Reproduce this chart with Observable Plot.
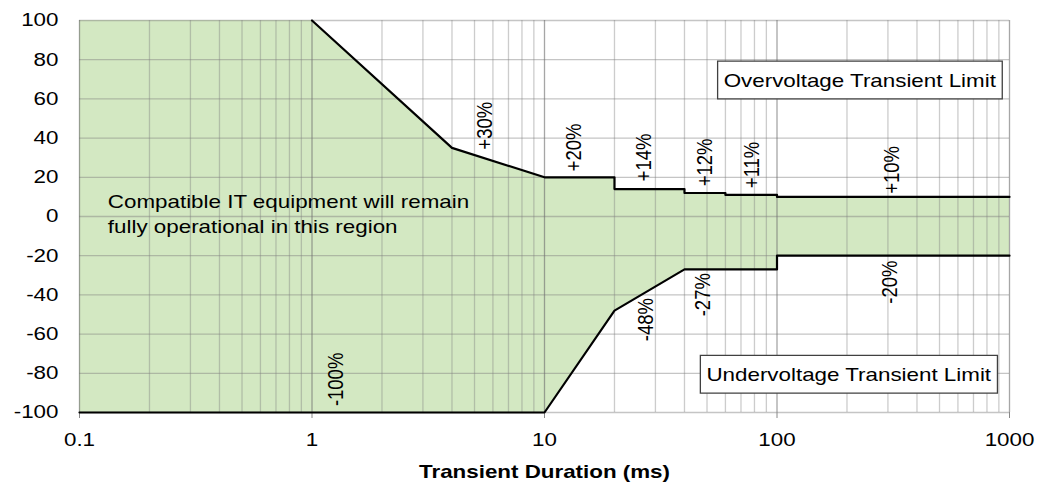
<!DOCTYPE html>
<html>
<head>
<meta charset="utf-8">
<script src="https://cdn.jsdelivr.net/npm/d3@7"></script>
<script src="https://cdn.jsdelivr.net/npm/@observablehq/plot@0.6"></script>
<style>
  html, body { margin: 0; padding: 0; background: #fff; }
  #chart svg { display: block; }
</style>
</head>
<body>
<div id="chart"></div>
<script>
// ---- Data ----
const upperX = [1, 4, 10, 20, 20, 40, 40, 60, 60, 100, 100, 1000];
const upperY = [100, 35, 20, 20, 14, 14, 12, 12, 11, 11, 10, 10];
const fillUpperX = [0.1, 1, 4, 10, 20, 20, 40, 40, 60, 60, 100, 100, 1000];
const fillUpperY = [100, 100, 35, 20, 20, 14, 14, 12, 12, 11, 11, 10, 10];
const lowerX = [0.1, 10, 20, 40, 100, 100, 1000];
const lowerY = [-100, -100, -48, -27, -27, -20, -20];

const pctLabels = ["+30%", "+20%", "+14%", "+12%", "+11%", "+10%", "-100%", "-48%", "-27%", "-20%"];
const pctX = [5.56, 13.4, 26.7, 49.0, 77.9, 311, 1.26, 27.3, 48.2, 306];
const pctY = [46.3, 35.2, 30.1, 27.6, 26.3, 23.8, -83.1, -52.6, -39.9, -33.5];

const limitLabels = ["Overvoltage Transient Limit", "Undervoltage Transient Limit"];
const limitX = [227, 203.5];
const limitY = [69.2, -80.9];

const regionText = "Compatible IT equipment will remain\nfully operational in this region";
const regionX = 0.1324;
const regionY = -8.2;

const xTicks = [0.1, 1, 10, 100, 1000];
const xTickLabels = ["0.1", "1", "10", "100", "1000"];
const xGridMinor = [0.2,0.3,0.4,0.5,0.6,0.7,0.8,0.9, 2,3,4,5,6,7,8,9, 20,30,40,50,60,70,80,90, 200,300,400,500,600,700,800,900];
const yTicks = [-100, -80, -60, -40, -20, 0, 20, 40, 60, 80, 100];
const xTitle = "Transient Duration (ms)";

// ---- Build tables ----
const fillTop = fillUpperX.map((x, i) => ({x, y: fillUpperY[i]}));
const fillBottom = lowerX.map((x, i) => ({x, y: lowerY[i]}));
const upper = upperX.map((x, i) => ({x, y: upperY[i]}));
const lower = lowerX.map((x, i) => ({x, y: lowerY[i]}));
const pcts = pctLabels.map((t, i) => ({t, x: pctX[i], y: pctY[i]}));
const limits = limitLabels.map((t, i) => ({t, x: limitX[i], y: limitY[i]}));

const FONT = "'Liberation Sans', Arial, sans-serif";
const FS = 18.5;
const SX = 1.21; // horizontal stretch of the reference's text

const chart = Plot.plot({
  width: 1049,
  height: 482,
  marginLeft: 79,
  marginRight: 40,
  marginTop: 20,
  marginBottom: 70,
  style: {fontFamily: FONT, fontSize: FS + "px", color: "#000", background: "#fff"},
  x: {type: "log", domain: [0.1, 1000]},
  y: {domain: [-100, 100]},
  marks: [
    Plot.areaY(fillTop, {x: "x", y1: -100, y2: "y", fill: "#d3e8c2"}),
    Plot.areaY(fillBottom, {x: "x", y1: -100, y2: "y", fill: "#ffffff"}),
    Plot.ruleY(yTicks, {stroke: "#7f7f7f", strokeOpacity: 0.45, strokeWidth: 1.3}),
    Plot.ruleX(xGridMinor, {stroke: "#7f7f7f", strokeOpacity: 0.4, strokeWidth: 1.3}),
    Plot.ruleX(xTicks, {stroke: "#6f6f6f", strokeOpacity: 0.62, strokeWidth: 1.3}),
    Plot.axisX({ticks: xTicks, tickFormat: d => xTickLabels[xTicks.indexOf(d)], tickSize: 6, tickPadding: 14, stroke: "#888", fill: "#000", label: null}),
    Plot.axisY({ticks: yTicks, tickFormat: d => String(d), tickSize: 0, tickPadding: 21, fill: "#000", label: null}),
    Plot.line(upper, {x: "x", y: "y", stroke: "#000", strokeWidth: 2.2}),
    Plot.line(lower, {x: "x", y: "y", stroke: "#000", strokeWidth: 2.2}),
    Plot.text(pcts, {x: "x", y: "y", text: "t", rotate: -90, textAnchor: "middle", lineAnchor: "middle", fontSize: FS, fill: "#000"}),
    Plot.text([regionText], {x: regionX, y: regionY, text: d => d, textAnchor: "start", lineAnchor: "bottom", lineHeight: 1.335, fontSize: FS, fill: "#000"}),
    Plot.text(limits, {x: "x", y: "y", text: "t", textAnchor: "middle", lineAnchor: "middle", fontSize: FS, fill: "#000", className: "limit-label"}),
    Plot.text([xTitle], {frameAnchor: "bottom", dy: 65, text: d => d, lineAnchor: "bottom", fontSize: FS, fontWeight: "bold", fill: "#000"})
  ]
});

document.getElementById("chart").appendChild(chart);

// stretch all text horizontally like the reference
d3.select(chart).selectAll("text").each(function() {
  const t = this.getAttribute("transform") || "";
  if (t.includes("rotate")) {
    this.setAttribute("transform", t.replace("rotate", `scale(${SX},1) rotate`));
  } else if (t) {
    this.setAttribute("transform", t + ` scale(${SX},1)`);
  } else {
    const x = +this.getAttribute("x") || 0;
    this.setAttribute("transform", `translate(${x},0) scale(${SX},1) translate(${-x},0)`);
  }
});

// boxes behind the limit labels
d3.select(chart).selectAll("g.limit-label text").each(function() {
  const bb = this.getBBox();
  const padX = 5, padY = 8.5;
  d3.select(this.parentNode).insert("rect", "text")
    .attr("transform", this.getAttribute("transform"))
    .attr("x", bb.x - padX)
    .attr("y", bb.y - padY)
    .attr("width", bb.width + 2 * padX)
    .attr("height", bb.height + 2 * padY)
    .attr("fill", "#fff")
    .attr("stroke", "#404040")
    .attr("stroke-width", 1.3)
    .attr("vector-effect", "non-scaling-stroke");
});
</script>
</body>
</html>
